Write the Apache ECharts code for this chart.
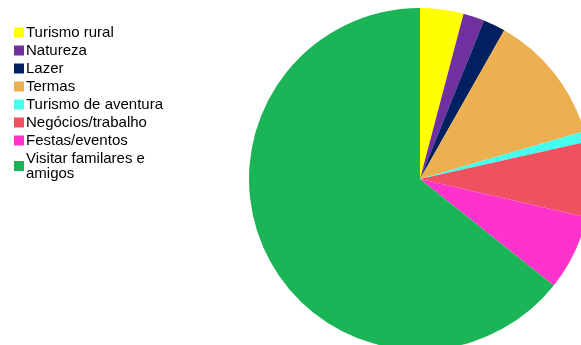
<!DOCTYPE html>
<html>
<head>
<meta charset="utf-8">
<script src="https://cdn.jsdelivr.net/npm/echarts@6/dist/echarts.min.js"></script>
<style>html,body{margin:0;padding:0;background:#fff;}#c{width:581px;height:345px;}</style>
</head>
<body>
<div id="c"></div>
<script>
var categories = ["Turismo rural","Natureza","Lazer","Termas","Turismo de aventura","Negócios/trabalho","Festas/eventos","Visitar familares e\namigos"];
var values = [4.1, 2.0, 2.1, 12.3, 1.0, 7.1, 7.1, 64.3];
var colors = ["#FFFF00","#7030A0","#002060","#EDB050","#44FFEE","#EE5260","#FF33CC","#1BB557"];

var chart = echarts.init(document.getElementById('c'), null, {renderer:'canvas'});
chart.setOption({
  animation: false,
  color: colors,
  legend: {
    orient: 'vertical',
    left: 9,
    top: 20,
    itemWidth: 10,
    itemHeight: 10,
    itemGap: 3,
    icon: 'rect',
    selectedMode: false,
    textStyle: {fontFamily: 'Liberation Sans, Arial, sans-serif', fontSize: 15, color: '#000', lineHeight: 15, padding: [0,0,0,-3]},
    data: categories
  },
  series: [{
    type: 'pie',
    center: [420, 179],
    radius: 171,
    startAngle: 90,
    clockwise: true,
    label: {show: false},
    labelLine: {show: false},
    silent: true,
    itemStyle: {borderWidth: 0},
    data: categories.map(function(c, i){ return {name: c, value: values[i]}; })
  }]
});
</script>
</body>
</html>
